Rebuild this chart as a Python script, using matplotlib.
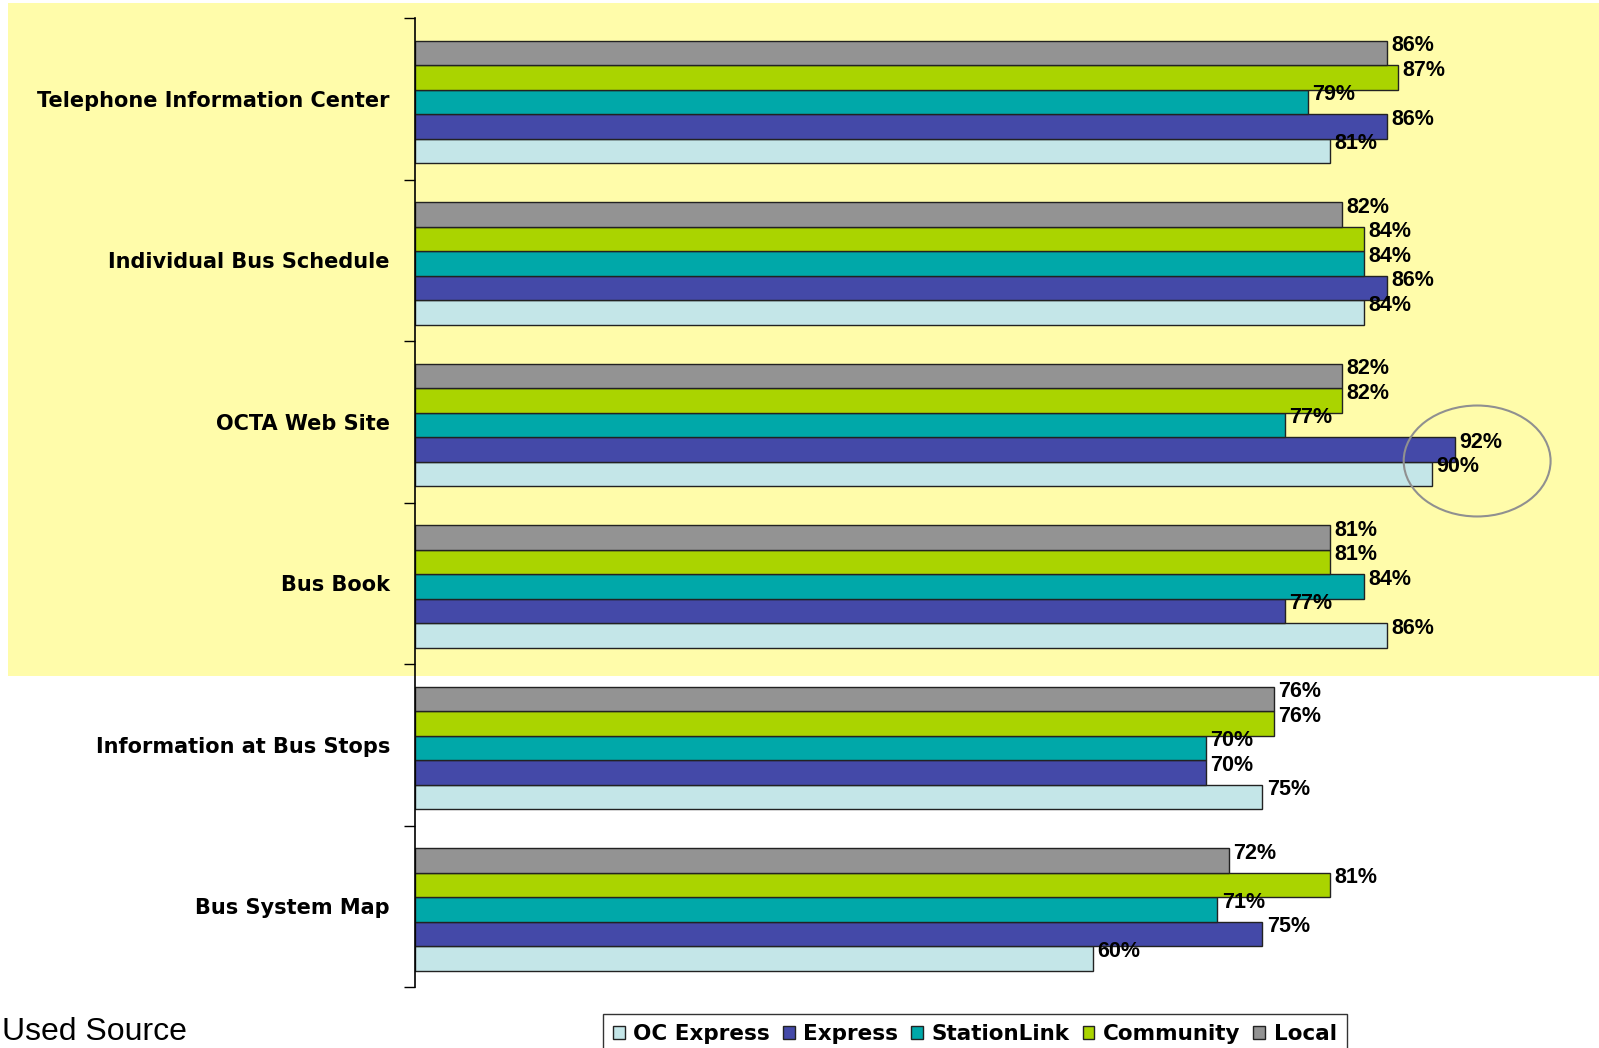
import numpy as np
import matplotlib
matplotlib.use('Agg')
import matplotlib.pyplot as plt
from matplotlib.patches import Rectangle, Ellipse

plt.rcParams['font.family'] = ['Liberation Sans', 'DejaVu Sans']

# data
categories = ['Telephone Information Center', 'Individual Bus Schedule', 'OCTA Web Site',
              'Bus Book', 'Information at Bus Stops', 'Bus System Map']
series = ['OC Express', 'Express', 'StationLink', 'Community', 'Local']
oc_express  = [81, 84, 90, 86, 75, 60]
express     = [86, 86, 92, 77, 70, 75]
stationlink = [79, 84, 77, 84, 70, 71]
community   = [87, 84, 82, 81, 76, 81]
local       = [86, 82, 82, 81, 76, 72]

values = [oc_express, express, stationlink, community, local]
colors = ['#C4E6E8', '#4449A8', '#00A8A9', '#AAD400', '#939393']

fig = plt.figure(figsize=(15.99, 10.48), dpi=100)
W, H = 1599, 1048

# yellow highlight behind the top four groups
fig.patches.append(Rectangle((8 / W, 1 - 676 / H), 1 - 8 / W, (676 - 3) / H,
                             transform=fig.transFigure, facecolor='#FFFCAA',
                             edgecolor='none', zorder=-5))

ax = fig.add_axes([415 / W, 1 - 987 / H, (W - 415) / W + 0.01, (987 - 18) / H])
ax.set_facecolor('none')

y = np.arange(len(categories))
h = 0.152
offsets = [2 * h, h, 0, -h, -2 * h]   # OC Express at bottom of each group
for vals, col, off, name in zip(values, colors, offsets, series):
    pos = y + off + 0.02
    ax.barh(pos, vals, height=h, color=col, edgecolor='#222222', linewidth=1.0, label=name)
    for p, v in zip(pos, vals):
        ax.text(v + 0.4, p - 0.045, f'{v}%', va='center', ha='left',
                fontsize=15.5, fontweight='bold')

ax.set_xlim(0, 106.2)
ax.set_ylim(len(categories) - 0.5, -0.5)

ax.set_yticks(y)
ax.set_yticklabels(categories, fontsize=15, fontweight='bold', family='DejaVu Sans')
ax.tick_params(axis='y', which='major', length=0, pad=18)
ax.set_yticks(np.arange(-0.5, len(categories)), minor=True)
ax.tick_params(axis='y', which='minor', length=8, width=1, direction='out')
ax.set_xticks([])
for s in ['top', 'right', 'bottom']:
    ax.spines[s].set_visible(False)
ax.spines['left'].set_linewidth(1.2)

# highlight circle around the web site figures
ax.add_patch(Ellipse((94.0, 2.243), 13.0, 0.687, fill=False, edgecolor='#909090',
                     linewidth=1.5, clip_on=False))

handles, labels = ax.get_legend_handles_labels()
leg = fig.legend(handles, labels, ncol=5, loc='upper left',
                 bbox_to_anchor=(603 / W, 1 - 1014 / H), borderaxespad=0,
                 prop={'family': 'DejaVu Sans', 'weight': 'bold', 'size': 15.5},
                 frameon=True, fancybox=False, edgecolor='black',
                 handlelength=0.55, handleheight=0.55, handletextpad=0.4,
                 columnspacing=0.6, borderpad=0.45)
leg.get_frame().set_linewidth(1.0)

fig.text(2 / W, 1.5 / H, 'Used Source', fontsize=23, va='bottom', ha='left')

fig.savefig('out.png', dpi=100)
